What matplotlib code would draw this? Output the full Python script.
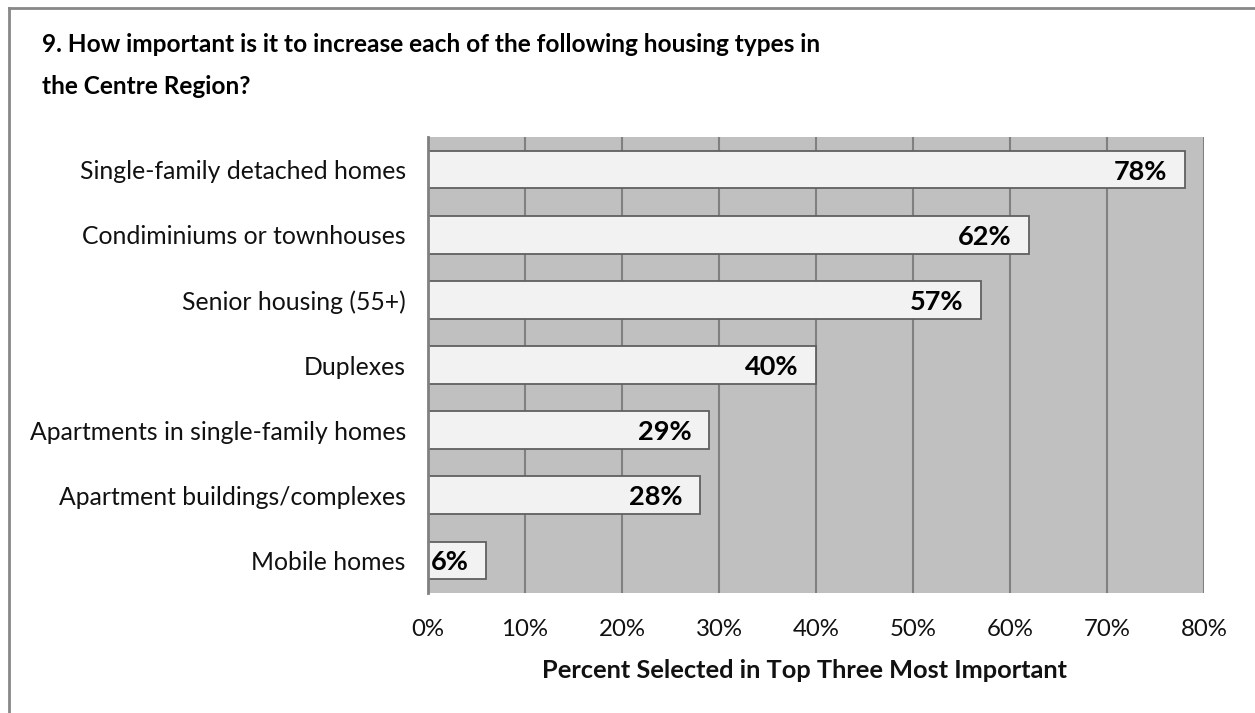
import matplotlib
matplotlib.use("Agg")
import matplotlib.pyplot as plt
from matplotlib.ticker import PercentFormatter
from matplotlib.lines import Line2D

categories = [
    "Single-family detached homes",
    "Condiminiums or townhouses",
    "Senior housing (55+)",
    "Duplexes",
    "Apartments in single-family homes",
    "Apartment buildings/complexes",
    "Mobile homes",
]
values = [78, 62, 57, 40, 29, 28, 6]
tick_values = [0, 10, 20, 30, 40, 50, 60, 70, 80]

plt.rcParams["font.family"] = ["Lato", "DejaVu Sans"]

W, H = 1255, 713
fig = plt.figure(figsize=(W / 100, H / 100), dpi=100)
fig.patch.set_facecolor("white")

# plot area in pixel coordinates
left, right, top, bottom = 428, 1204, 137, 593
ax = fig.add_axes([left / W, 1 - bottom / H, (right - left) / W, (bottom - top) / H])
ax.set_facecolor("#C0C0C0")

n = len(categories)
ypos = list(range(n))
ax.barh(ypos, values, height=0.58, color="#F2F2F2", edgecolor="#606060",
        linewidth=1.3, zorder=3)
ax.set_ylim(n - 0.5, -0.5)
ax.set_xlim(0, 80)
ax.set_xticks(tick_values)
ax.xaxis.set_major_formatter(PercentFormatter(decimals=0))
ax.set_yticks(ypos)
ax.set_yticklabels(categories, fontsize=17.8, color="#111111")
ax.tick_params(axis="x", labelsize=17.3, length=0, pad=19, colors="#111111")
ax.tick_params(axis="y", length=0, pad=16)
ax.grid(axis="x", color="#808080", linewidth=1.5, zorder=1)
for s in ["top", "right", "bottom"]:
    ax.spines[s].set_visible(False)
ax.spines["left"].set_color("#808080")
ax.spines["left"].set_linewidth(2)
ax.spines["left"].set_zorder(4)

for y, v in zip(ypos, values):
    ax.text(v - 1.8, y + 0.03, f"{v}%", ha="right", va="center",
            fontsize=19.5, fontweight="bold", color="#000000", zorder=5)

fig.text(804 / W, 1 - 670 / H, "Percent Selected in Top Three Most Important",
         ha="center", va="center", fontsize=18.3, fontweight="bold", color="#111111")

fig.text(42 / W, 1 - 45 / H,
         "9. How important is it to increase each of the following housing types in",
         ha="left", va="center", fontsize=17.6, fontweight="bold", color="#000000")
fig.text(42 / W, 1 - 87 / H, "the Centre Region?",
         ha="left", va="center", fontsize=17.6, fontweight="bold", color="#000000")

# frame lines along the top and left edges
fig.add_artist(Line2D([8.5 / W, 8.5 / W], [0, 1 - 7.5 / H], transform=fig.transFigure,
                      color="#888888", linewidth=2))
fig.add_artist(Line2D([8.5 / W, 1], [1 - 7.5 / H, 1 - 7.5 / H], transform=fig.transFigure,
                      color="#888888", linewidth=2))

fig.savefig("out.png", dpi=100)
